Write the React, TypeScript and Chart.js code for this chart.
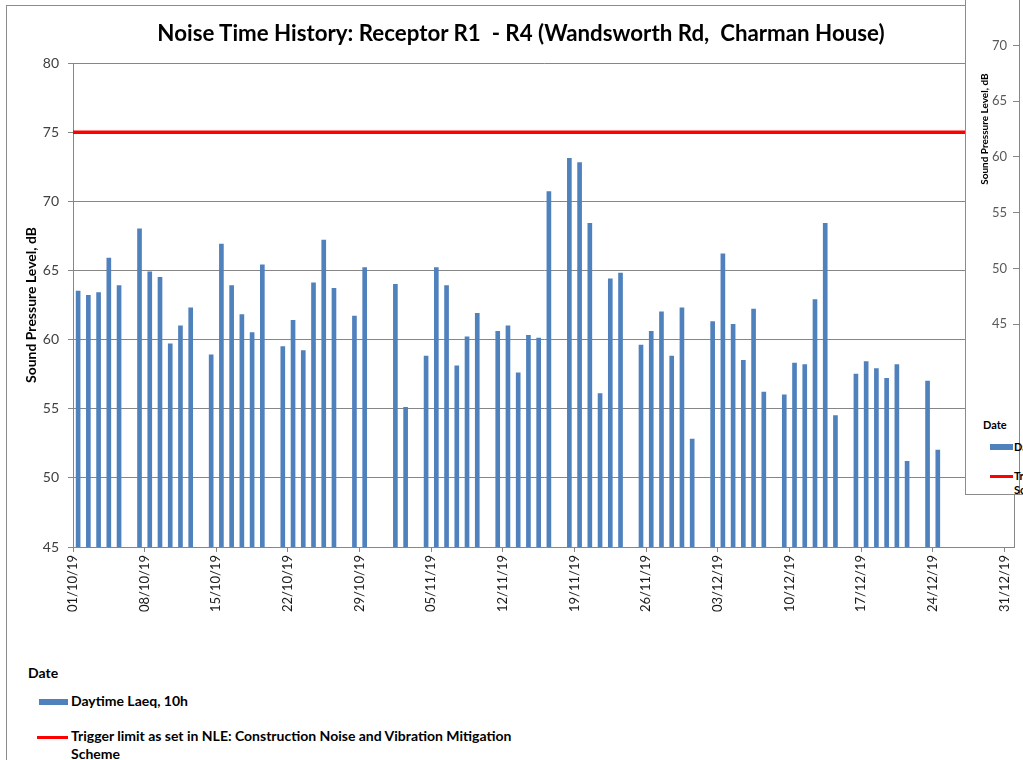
import React, { useEffect, useRef } from 'react';
import { Chart, registerables } from 'chart.js';

Chart.register(...registerables);

// ---- data ----
const barDates = [
  '01/10/19', '02/10/19', '03/10/19', '04/10/19', '05/10/19',
  '07/10/19', '08/10/19', '09/10/19', '10/10/19', '11/10/19', '12/10/19',
  '14/10/19', '15/10/19', '16/10/19', '17/10/19', '18/10/19', '19/10/19',
  '21/10/19', '22/10/19', '23/10/19', '24/10/19', '25/10/19', '26/10/19',
  '28/10/19', '29/10/19',
  '01/11/19', '02/11/19',
  '04/11/19', '05/11/19', '06/11/19', '07/11/19', '08/11/19', '09/11/19',
  '11/11/19', '12/11/19', '13/11/19', '14/11/19', '15/11/19', '16/11/19',
  '18/11/19', '19/11/19', '20/11/19', '21/11/19', '22/11/19', '23/11/19',
  '25/11/19', '26/11/19', '27/11/19', '28/11/19', '29/11/19', '30/11/19',
  '02/12/19', '03/12/19', '04/12/19', '05/12/19', '06/12/19', '07/12/19',
  '09/12/19', '10/12/19', '11/12/19', '12/12/19', '13/12/19', '14/12/19',
  '16/12/19', '17/12/19', '18/12/19', '19/12/19', '20/12/19', '21/12/19',
  '23/12/19', '24/12/19',
];

const laeqValues = [
  63.5, 63.2, 63.4, 65.9, 63.9,
  68.0, 64.9, 64.5, 59.7, 61.0, 62.3,
  58.9, 66.9, 63.9, 61.8, 60.5, 65.4,
  59.5, 61.4, 59.2, 64.1, 67.2, 63.7,
  61.7, 65.2,
  64.0, 55.1,
  58.8, 65.2, 63.9, 58.1, 60.2, 61.9,
  60.6, 61.0, 57.6, 60.3, 60.1, 70.7,
  73.1, 72.8, 68.4, 56.1, 64.4, 64.8,
  59.6, 60.6, 62.0, 58.8, 62.3, 52.8,
  61.3, 66.2, 61.1, 58.5, 62.2, 56.2,
  56.0, 58.3, 58.2, 62.9, 68.4, 54.5,
  57.5, 58.4, 57.9, 57.2, 58.2, 51.2,
  57.0, 52.0,
];

const tickDates = [
  '01/10/19', '08/10/19', '15/10/19', '22/10/19', '29/10/19', '05/11/19', '12/11/19',
  '19/11/19', '26/11/19', '03/12/19', '10/12/19', '17/12/19', '24/12/19', '31/12/19',
];

const triggerLimit = 75;
const axisStartDate = '01/10/19';
const axisEndDate = '01/01/20';
const yMin = 45;
const yMax = 80;
const yStep = 5;

const titleText = 'Noise Time History: Receptor R1  - R4 (Wandsworth Rd,  Charman House)';
const yTitle = 'Sound Pressure Level, dB';
const xTitle = 'Date';
const barLabel = 'Daytime Laeq, 10h';
const lineLabelLines = ['Trigger limit as set in NLE: Construction Noise and Vibration Mitigation', 'Scheme'];

// ---- helpers ----
function parseDate(s: string): number {
  const [d, m, y] = s.split('/').map(Number);
  return Date.UTC(2000 + y, m - 1, d);
}
function dayOffset(s: string): number {
  return Math.round((parseDate(s) - parseDate(axisStartDate)) / 86400000);
}

const FONT = 'Lato, "Open Sans", "DejaVu Sans", sans-serif';
const GRID = '#868686';
const BAR = '#4F81BD';
const RED = '#FF0000';

export default function App() {
  const mainRef = useRef<HTMLCanvasElement | null>(null);
  const sideRef = useRef<HTMLCanvasElement | null>(null);

  useEffect(() => {
    const tickValues = tickDates.map(dayOffset);
    const xMax = dayOffset(axisEndDate);
    const main = new Chart(mainRef.current as HTMLCanvasElement, {
      type: 'bar',
      data: {
        datasets: [
          {
            type: 'line',
            label: lineLabelLines.join(' '),
            data: [
              { x: 0, y: triggerLimit },
              { x: xMax, y: triggerLimit },
            ],
            borderColor: RED,
            borderWidth: 3.5,
            pointRadius: 0,
            order: 0,
          } as any,
          {
            type: 'bar',
            label: barLabel,
            data: barDates.map((d, i) => ({ x: dayOffset(d) + 0.5, y: laeqValues[i] })),
            backgroundColor: BAR,
            borderWidth: 0,
            barThickness: 4,
            order: 1,
          } as any,
        ],
      },
      options: {
        animation: false,
        responsive: false,
        devicePixelRatio: 1,
        layout: { padding: { left: 21, top: 63, right: 7, bottom: 0 } },
        plugins: { legend: { display: false }, tooltip: { enabled: false }, title: { display: false } },
        scales: {
          x: {
            type: 'linear',
            min: 0,
            max: xMax,
            offset: false,
            afterBuildTicks: (a: any) => {
              a.ticks = tickValues.map((v) => ({ value: v }));
            },
            afterFit: (a: any) => {
              a.height = 93;
            },
            ticks: {
              autoSkip: false,
              minRotation: 90,
              maxRotation: 90,
              padding: 3,
              color: '#1a1a1a',
              font: { family: FONT, size: 13 },
              callback: (_v: any, i: number) => tickDates[i],
            },
            grid: { display: true, drawOnChartArea: false, drawTicks: true, tickLength: 5, color: GRID, offset: false },
            border: { display: true, color: GRID, width: 1 },
          },
          y: {
            type: 'linear',
            min: yMin,
            max: yMax,
            afterFit: (a: any) => {
              a.width = 52;
            },
            ticks: {
              stepSize: yStep,
              padding: 9,
              color: '#404040',
              font: { family: FONT, size: 14 },
            },
            grid: { color: GRID, tickLength: 5, lineWidth: 1 },
            border: { display: true, color: GRID, width: 1 },
            title: {
              display: true,
              text: yTitle,
              color: '#000',
              font: { family: FONT, size: 14, weight: 'bold' },
              padding: { top: 2, bottom: 0 },
            },
          },
          y2: {
            type: 'linear',
            position: 'right',
            min: yMin,
            max: yMax,
            afterFit: (a: any) => {
              a.width = 0;
            },
            ticks: { display: false },
            grid: { display: false, drawTicks: false },
            border: { display: true, color: GRID, width: 1 },
          },
        },
      } as any,
    });

    const side = new Chart(sideRef.current as HTMLCanvasElement, {
      type: 'line',
      data: { datasets: [] },
      options: {
        animation: false,
        responsive: false,
        devicePixelRatio: 1,
        layout: { padding: { left: 0, top: 14, right: 0, bottom: 0 } },
        plugins: { legend: { display: false }, tooltip: { enabled: false } },
        scales: {
          x: { type: 'linear', display: false, min: 0, max: 1 },
          y: {
            type: 'linear',
            min: yMin,
            max: yMax,
            afterFit: (a: any) => {
              a.width = 40;
            },
            ticks: { stepSize: yStep, padding: 6, color: '#595959', font: { family: FONT, size: 13 } },
            grid: { drawOnChartArea: false, tickLength: 6, color: GRID },
            border: { display: true, color: GRID, width: 1 },
            title: {
              display: true,
              text: yTitle,
              color: '#000',
              font: { family: FONT, size: 10, weight: 'bold' },
              padding: { top: 0, bottom: 0 },
            },
          },
        },
      } as any,
    });

    return () => {
      main.destroy();
      side.destroy();
    };
  }, []);

  const abs = (s: React.CSSProperties): React.CSSProperties => ({ position: 'absolute', ...s });
  const legendText: React.CSSProperties = {
    fontFamily: FONT,
    fontWeight: 'bold',
    fontSize: 14,
    color: '#000',
    whiteSpace: 'pre',
    lineHeight: '16px',
  };
  const sideText: React.CSSProperties = { ...legendText, fontSize: 11, lineHeight: '13px' };

  return (
    <div style={abs({ left: 0, top: 0, width: 1023, height: 760, overflow: 'hidden', background: '#fff' })}>
      <div style={abs({ left: 6, top: 5, width: 1200, height: 900, border: '1px solid #8c8c8c' })} />
      <canvas ref={mainRef} width={1023} height={640} style={abs({ left: 0, top: 0, width: 1023, height: 640 })} />
      <div
        style={abs({
          left: 521,
          top: 19,
          transform: 'translateX(-50%)',
          fontFamily: FONT,
          fontWeight: 'bold',
          fontSize: 22.3,
          lineHeight: '27px',
          whiteSpace: 'pre',
          color: '#000',
        })}
      >
        {titleText}
      </div>
      <div style={abs({ left: 28, top: 665, ...legendText })}>{xTitle}</div>
      <div style={abs({ left: 39, top: 699, width: 29, height: 6, background: BAR })} />
      <div style={abs({ left: 71, top: 693, ...legendText })}>{barLabel}</div>
      <div style={abs({ left: 37, top: 736, width: 31, height: 3, background: RED })} />
      <div style={abs({ left: 71, top: 728, ...legendText })}>{lineLabelLines[0]}</div>
      <div style={abs({ left: 71, top: 746, ...legendText })}>{lineLabelLines[1]}</div>

      <div
        style={abs({
          left: 965,
          top: -2,
          width: 60,
          height: 497,
          boxSizing: 'border-box',
          borderLeft: '1px solid #8c8c8c',
          borderBottom: '1px solid #8c8c8c',
          background: '#fff',
          overflow: 'hidden',
        })}
      >
        <div style={abs({ left: 53, top: 0, width: 1, height: 497, background: GRID })} />
        <canvas ref={sideRef} width={45} height={418} style={abs({ left: 13, top: -78, width: 45, height: 418 })} />
        <div style={abs({ left: 17, top: 420, ...sideText })}>{xTitle}</div>
        <div style={abs({ left: 24, top: 446, width: 23, height: 6, background: BAR })} />
        <div style={abs({ left: 48, top: 442, ...sideText })}>{barLabel}</div>
        <div style={abs({ left: 24, top: 477, width: 23, height: 3, background: RED })} />
        <div style={abs({ left: 48, top: 471, ...sideText })}>{lineLabelLines[0]}</div>
        <div style={abs({ left: 48, top: 485, ...sideText })}>{lineLabelLines[1]}</div>
      </div>
    </div>
  );
}
